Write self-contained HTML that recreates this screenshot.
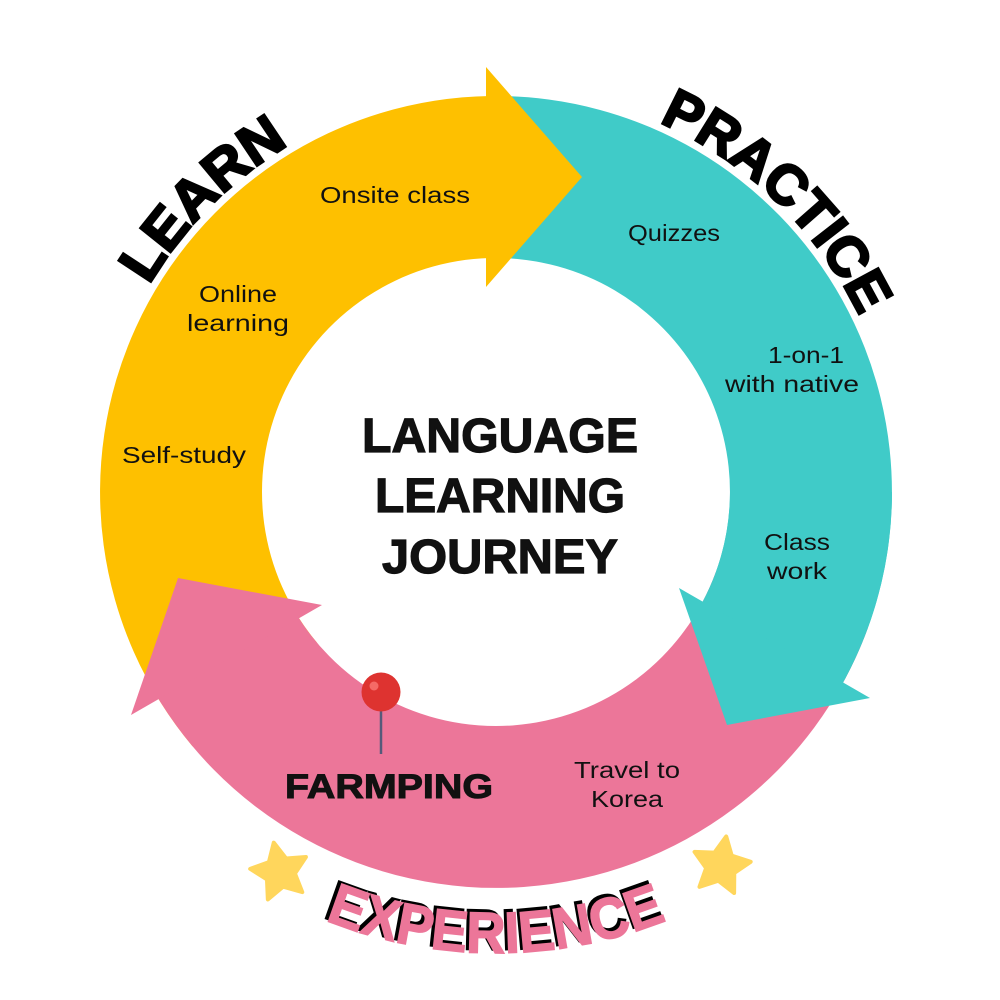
<!DOCTYPE html>
<html><head><meta charset="utf-8"><style>
html,body{margin:0;padding:0;background:#fff;}
svg{display:block;}
text{font-family:"Liberation Sans",sans-serif;}
</style></head><body>
<svg width="1000" height="1000" viewBox="0 0 1000 1000" xmlns="http://www.w3.org/2000/svg">
<defs>
<path id="pL" d="M105.8,387.4 A404,404 0 0 1 391.4,101.8"/>
<path id="pP" d="M559.2,93.0 A404,404 0 0 1 892.6,414.9"/>
<path id="pE" d="M96.8,722.5 A461,461 0 0 0 895.2,722.5"/>
</defs>
<rect width="1000" height="1000" fill="#fff"/>
<path d="M496,96 A396,396 0 0 1 831.8,701.8 L694.4,616.0 A234,234 0 0 0 496,258 Z" fill="#40CBC8"/>
<path d="M192.7,746.5 A396,396 0 0 1 490,96 L490,258 A234,234 0 0 0 316.8,642.4 Z" fill="#FEC000"/>
<path d="M486,67 L582,177 L486,287 Z" fill="#FEC000"/>
<path d="M868.1,627.4 A396,396 0 0 1 146.4,677.9 L289.4,601.9 A234,234 0 0 0 715.9,572.0 Z" fill="#EC7699"/>
<path d="M131,715 L178,578 L322,605 Z" fill="#EC7699"/>
<path d="M892,492 A396,396 0 0 1 831.8,701.8 L694.4,616.0 A234,234 0 0 0 730,492 Z" fill="#40CBC8"/>
<path d="M679,588 L727,725 L870,698 Z" fill="#40CBC8"/>

<text font-size="56" font-weight="bold" fill="#000" stroke="#000" stroke-width="2.5"><textPath href="#pL" startOffset="50%" text-anchor="middle" textLength="200" lengthAdjust="spacingAndGlyphs">LEARN</textPath></text>
<text font-size="56" font-weight="bold" fill="#000" stroke="#000" stroke-width="2.5"><textPath href="#pP" startOffset="50%" text-anchor="middle" textLength="285" lengthAdjust="spacingAndGlyphs">PRACTICE</textPath></text>
<g transform="translate(-3,-3)"><text font-size="58" font-weight="bold" fill="#000" stroke="#000" stroke-width="1.5"><textPath href="#pE" startOffset="50%" text-anchor="middle" textLength="350" lengthAdjust="spacingAndGlyphs">EXPERIENCE</textPath></text></g>
<text font-size="58" font-weight="bold" fill="#EC7699" stroke="#EC7699" stroke-width="1.5"><textPath href="#pE" startOffset="50%" text-anchor="middle" textLength="350" lengthAdjust="spacingAndGlyphs">EXPERIENCE</textPath></text>

<g font-weight="bold" font-size="48" text-anchor="middle" fill="#111" stroke="#111" stroke-width="1.2">
<text x="500" y="452" textLength="276" lengthAdjust="spacingAndGlyphs">LANGUAGE</text>
<text x="500" y="512" textLength="250" lengthAdjust="spacingAndGlyphs">LEARNING</text>
<text x="500" y="573" textLength="236" lengthAdjust="spacingAndGlyphs">JOURNEY</text>
</g>

<g font-size="23" text-anchor="middle" fill="#111">
<text x="395" y="203" textLength="150" lengthAdjust="spacingAndGlyphs">Onsite class</text>
<text x="238" y="302" textLength="78" lengthAdjust="spacingAndGlyphs">Online</text>
<text x="238" y="331" textLength="102" lengthAdjust="spacingAndGlyphs">learning</text>
<text x="184" y="463" textLength="124" lengthAdjust="spacingAndGlyphs">Self-study</text>
<text x="674" y="241" textLength="92" lengthAdjust="spacingAndGlyphs">Quizzes</text>
<text x="806" y="363" textLength="76" lengthAdjust="spacingAndGlyphs">1-on-1</text>
<text x="792" y="392" textLength="134" lengthAdjust="spacingAndGlyphs">with native</text>
<text x="797" y="550" textLength="66" lengthAdjust="spacingAndGlyphs">Class</text>
<text x="797" y="579" textLength="60" lengthAdjust="spacingAndGlyphs">work</text>
<text x="627" y="778" textLength="106" lengthAdjust="spacingAndGlyphs">Travel to</text>
<text x="627" y="807" textLength="72" lengthAdjust="spacingAndGlyphs">Korea</text>
</g>
<text x="389" y="798" font-size="34" font-weight="bold" text-anchor="middle" fill="#111" stroke="#111" stroke-width="1" textLength="208" lengthAdjust="spacingAndGlyphs">FARMPING</text>

<line x1="381" y1="700" x2="381" y2="754" stroke="#555a7a" stroke-width="2.5"/>
<circle cx="381" cy="692" r="19.5" fill="#DE3330"/>
<circle cx="374" cy="686" r="4.5" fill="#F56A66"/>

<g transform="translate(280,872) rotate(-12)" stroke="#FFD65C" stroke-width="4" stroke-linejoin="round">
<polygon points="0,-30 8.8,-12 28.5,-9.3 14.3,4.6 17.6,24.3 0,15 -17.6,24.3 -14.3,4.6 -28.5,-9.3 -8.8,-12" fill="#FFD65C"/>
</g>
<g transform="translate(721,866) rotate(10)" stroke="#FFD65C" stroke-width="4" stroke-linejoin="round">
<polygon points="0,-30 8.8,-12 28.5,-9.3 14.3,4.6 17.6,24.3 0,15 -17.6,24.3 -14.3,4.6 -28.5,-9.3 -8.8,-12" fill="#FFD65C"/>
</g>
</svg>
</body></html>
